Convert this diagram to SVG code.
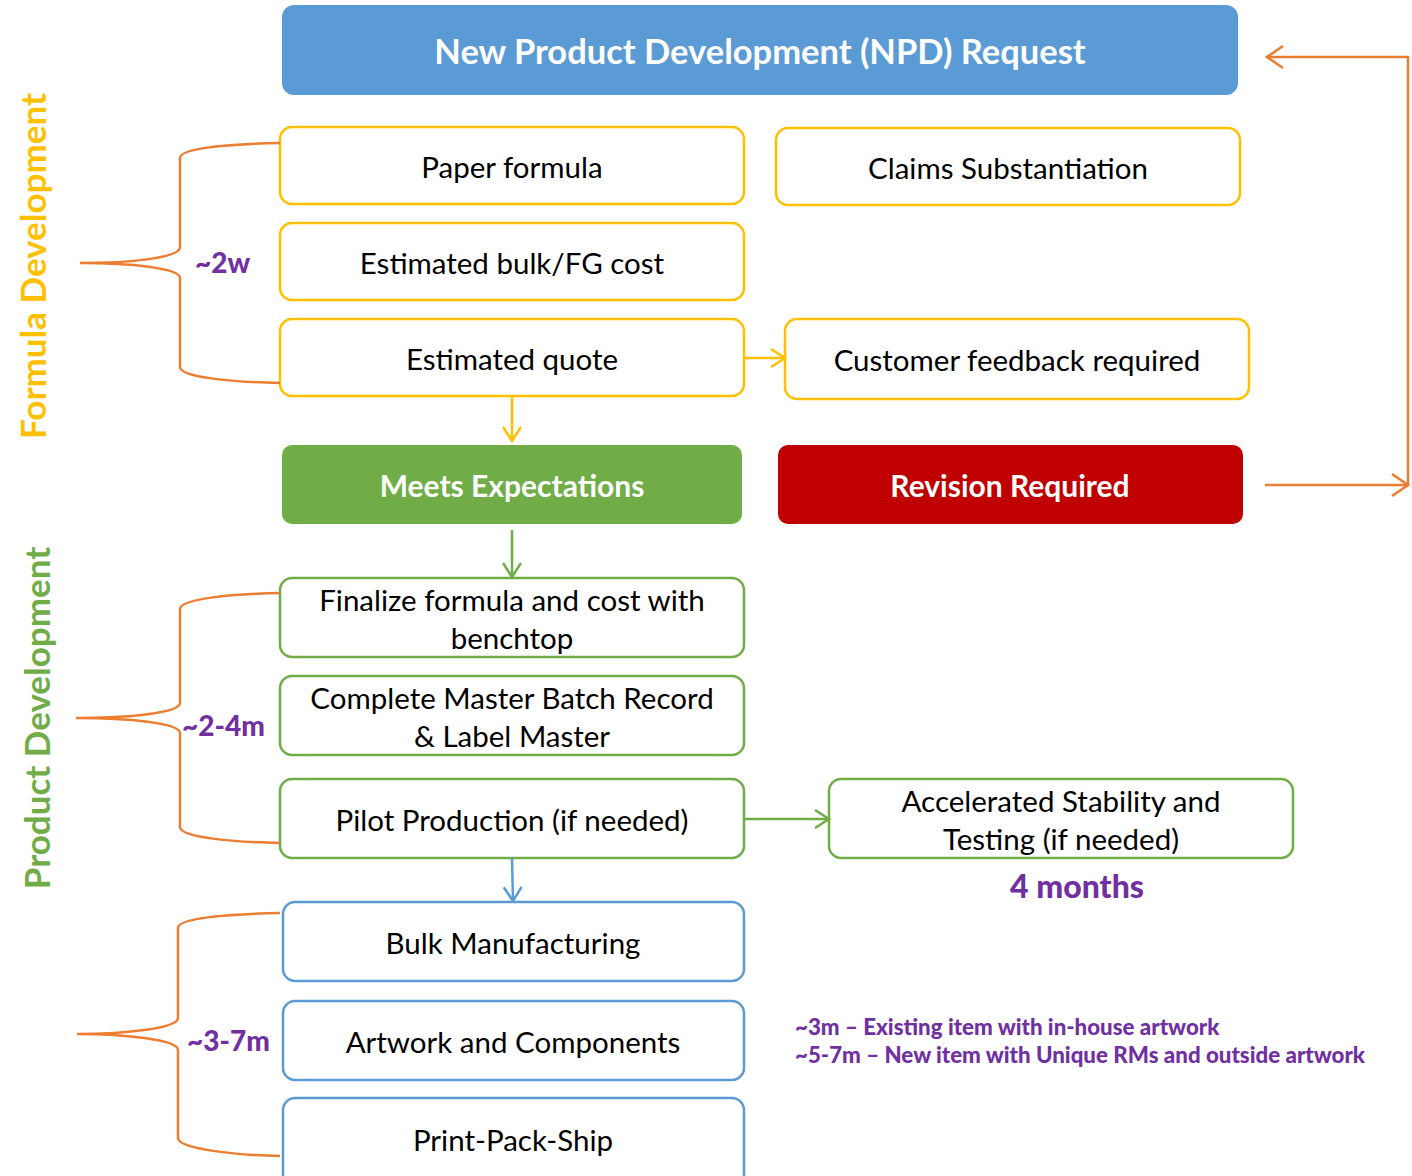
<svg xmlns="http://www.w3.org/2000/svg" width="1412" height="1176" viewBox="0 0 1412 1176">
<defs>
<style>
.t{font-family:Lato,"Open Sans","Liberation Sans",sans-serif;font-size:29.5px;fill:#000;text-anchor:middle;dominant-baseline:central}
.tb{font-family:Lato,"Open Sans","Liberation Sans",sans-serif;font-size:30px;font-weight:bold;fill:#fff;text-anchor:middle;dominant-baseline:central}
.p{font-family:Lato,"Open Sans","Liberation Sans",sans-serif;font-weight:900;fill:#7030A0;dominant-baseline:central}
.y{fill:#fff;stroke:#FFC000;stroke-width:2.5}
.g{fill:#fff;stroke:#70AD47;stroke-width:2.5}
.b{fill:#fff;stroke:#5B9BD5;stroke-width:2.5}
.br{fill:none;stroke:#ED7D31;stroke-width:2.5}
.side{font-family:Lato,"Open Sans","Liberation Sans",sans-serif;font-size:35px;font-weight:bold;text-anchor:middle;dominant-baseline:central}
</style>
<marker id="ay" markerWidth="20" markerHeight="20" refX="17" refY="10" orient="auto" markerUnits="userSpaceOnUse"><path d="M3,1 L17,10 L3,19" fill="none" stroke="#FFC000" stroke-width="2.5"/></marker>
<marker id="ag" markerWidth="20" markerHeight="20" refX="17" refY="10" orient="auto" markerUnits="userSpaceOnUse"><path d="M3,1 L17,10 L3,19" fill="none" stroke="#70AD47" stroke-width="2.5"/></marker>
<marker id="ab" markerWidth="20" markerHeight="20" refX="17" refY="10" orient="auto" markerUnits="userSpaceOnUse"><path d="M3,1 L17,10 L3,19" fill="none" stroke="#5B9BD5" stroke-width="2.5"/></marker>
<marker id="ao" markerWidth="20" markerHeight="24" refX="18" refY="12" orient="auto" markerUnits="userSpaceOnUse"><path d="M2,1 L18,12 L2,23" fill="none" stroke="#ED7D31" stroke-width="2.5"/></marker>
</defs>

<g id="npd"><rect x="282" y="5" width="956" height="90" rx="12" fill="#5B9BD5"/><text class="tb" x="760" y="50" style="font-size:34.5px">New Product Development (NPD) Request</text></g>
<g id="paper"><rect class="y" x="280" y="127" width="464" height="77" rx="12"/><text class="t" x="512" y="166">Paper formula</text></g>
<g id="claims"><rect class="y" x="776" y="128" width="464" height="77" rx="12"/><text class="t" x="1008" y="167">Claims Substantiation</text></g>
<g id="bulkcost"><rect class="y" x="280" y="223" width="464" height="77" rx="12"/><text class="t" x="512" y="262">Estimated bulk/FG cost</text></g>
<g id="quote"><rect class="y" x="280" y="319" width="464" height="77" rx="12"/><text class="t" x="512" y="358">Estimated quote</text></g>
<g id="feedback"><rect class="y" x="785" y="319" width="464" height="80" rx="12"/><text class="t" x="1017" y="359">Customer feedback required</text></g>
<g id="meets"><rect x="282" y="445" width="460" height="79" rx="10" fill="#70AD47"/><text class="tb" x="512" y="485">Meets Expectations</text></g>
<g id="revision"><rect x="778" y="445" width="465" height="79" rx="10" fill="#C00000"/><text class="tb" x="1010" y="485">Revision Required</text></g>
<g id="finalize"><rect class="g" x="280" y="578" width="464" height="79" rx="12"/><text class="t" x="512" y="599">Finalize formula and cost with</text><text class="t" x="512" y="637">benchtop</text></g>
<g id="master"><rect class="g" x="280" y="676" width="464" height="79" rx="12"/><text class="t" x="512" y="697">Complete Master Batch Record</text><text class="t" x="512" y="735">&amp; Label Master</text></g>
<g id="pilot"><rect class="g" x="280" y="779" width="464" height="79" rx="12"/><text class="t" x="512" y="819">Pilot Production (if needed)</text></g>
<g id="stability"><rect class="g" x="829" y="779" width="464" height="79" rx="12"/><text class="t" x="1061" y="800">Accelerated Stability and</text><text class="t" x="1061" y="838">Testing (if needed)</text></g>
<g id="bulkmfg"><rect class="b" x="283" y="902" width="461" height="79" rx="12"/><text class="t" x="513" y="942">Bulk Manufacturing</text></g>
<g id="artwork"><rect class="b" x="283" y="1001" width="461" height="79" rx="12"/><text class="t" x="513" y="1041">Artwork and Components</text></g>
<g id="ship"><rect class="b" x="283" y="1098" width="461" height="90" rx="12"/><text class="t" x="513" y="1139">Print-Pack-Ship</text></g>

<g id="labels">
<text class="side" fill="#FFC000" transform="translate(32,266) rotate(-90)">Formula Development</text>
<text class="side" fill="#70AD47" transform="translate(36,718) rotate(-90)">Product Development</text>
<text class="p" x="195" y="262" font-size="28">~2w</text>
<text class="p" x="182" y="725" font-size="28">~2-4m</text>
<text class="p" x="187" y="1040" font-size="28">~3-7m</text>
<text class="p" x="1077" y="885" font-size="32" text-anchor="middle">4 months</text>
<text class="p" x="795" y="1026" font-size="22.3">~3m – Existing item with in-house artwork</text>
<text class="p" x="795" y="1054" font-size="22.3">~5-7m – New item with Unique RMs and outside artwork</text>
</g>

<g id="connectors">
<path d="M744,358 H785" fill="none" stroke="#FFC000" stroke-width="2.5" marker-end="url(#ay)"/>
<path d="M512,396 V441" fill="none" stroke="#FFC000" stroke-width="2.5" marker-end="url(#ay)"/>
<path d="M512,530 V577" fill="none" stroke="#70AD47" stroke-width="2.5" marker-end="url(#ag)"/>
<path d="M744,819 H829" fill="none" stroke="#70AD47" stroke-width="2.5" marker-end="url(#ag)"/>
<path d="M512,858 L513,901" fill="none" stroke="#5B9BD5" stroke-width="2.5" marker-end="url(#ab)"/>
<path d="M1265,485 H1408" fill="none" stroke="#ED7D31" stroke-width="2.5" marker-end="url(#ao)"/>
<path d="M1408,485 V57 H1267" fill="none" stroke="#ED7D31" stroke-width="2.5" marker-end="url(#ao)"/>
<path class="br" d="M280,143 C230,144 180,148 180,158 V247 C180,258 130,263 80,263 C130,263 180,268 180,278 V367 C180,377 230,382 280,383"/>
<path class="br" d="M280,593 C230,594 180,599 180,609 V703 C180,713 128,718 76,718 C128,718 180,723 180,733 V827 C180,837 230,842 280,843"/>
<path class="br" d="M280,913 C229,914 178,918 178,928 V1018 C178,1028 127,1034 77,1034 C127,1034 178,1040 178,1050 V1138 C178,1148 229,1155 280,1156"/>
</g>
</svg>
